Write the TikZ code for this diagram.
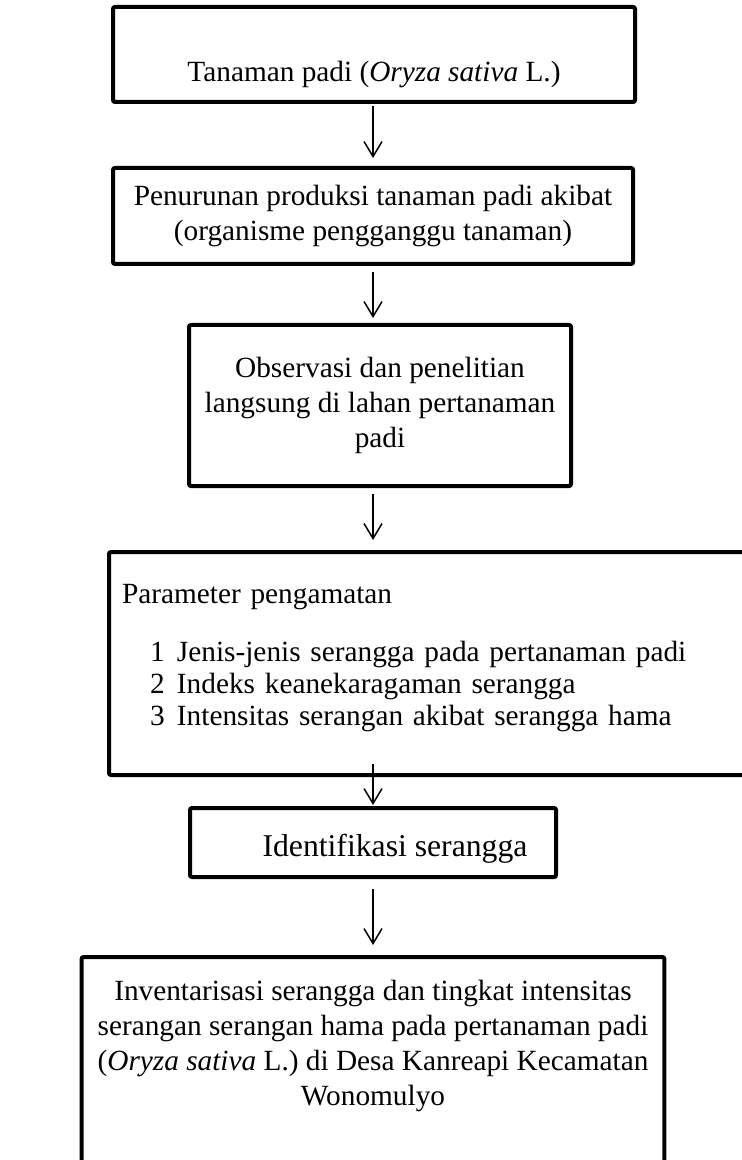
\documentclass[tikz,border=0pt]{standalone}
\usepackage{fontspec}
\setmainfont{Liberation Serif}
\usetikzlibrary{arrows.meta,positioning}

\begin{document}
\begin{tikzpicture}[x=0.5pt, y=-0.5pt,
    every node/.style={font=\fontsize{14.65pt}{17.5pt}\selectfont},
    box/.style={draw=black, line width=2pt, rounded corners=1pt, inner xsep=5pt, inner ysep=4pt, align=center},
    flow/.style={draw=black, line width=0.75pt, -{Straight Barb[length=7.5pt, width=9pt]}}]

    \useasboundingbox (0,0) rectangle (741,1160);
    \coordinate (axis) at (373,0);

    % Nodes
    \node[box, anchor=north, minimum width=261pt, text height=33.5pt, text depth=6pt] (plant) at (374,5) {Tanaman padi (\textit{Oryza sativa} L.)};
    \node[box, anchor=north, minimum width=260pt, minimum height=48pt] (decline) at (373,166) {Penurunan produksi tanaman padi akibat\\(organisme pengganggu tanaman)};
    \node[box, anchor=north, minimum width=191pt, minimum height=80.5pt] (observe) at (380,323) {Observasi dan penelitian\\langsung di lahan pertanaman\\padi};
    \node[box, anchor=north west, inner xsep=6.5pt, text width=317pt, align=left, text height=21.5pt, text depth=82pt] (param) at (107,550) {%
        \begin{tabular}[t]{@{}l@{}}
        Parameter pengamatan\\[11.5pt]
        \hspace*{14pt}\makebox[13.5pt][l]{1}Jenis-jenis serangga pada pertanaman padi\\[-1.5pt]
        \hspace*{14pt}\makebox[13.5pt][l]{2}Indeks keanekaragaman serangga\\[-1.5pt]
        \hspace*{14pt}\makebox[13.5pt][l]{3}Intensitas serangan akibat serangga hama
        \end{tabular}};
    \node[box, anchor=north, minimum width=183pt, font=\fontsize{15.85pt}{19pt}\selectfont, text height=20pt, text depth=6.5pt] (ident) at (373,806) {\hspace*{22pt}Identifikasi serangga};
    \node[box, anchor=north, inner xsep=8pt, text height=17.5pt, text depth=84.5pt] (result) at (373,955) {%
        \begin{tabular}[t]{@{}c@{}}
        Inventarisasi serangga dan tingkat intensitas\\
        serangan serangan hama pada pertanaman padi\\
        (\textit{Oryza sativa} L.) di Desa Kanreapi Kecamatan\\
        Wonomulyo
        \end{tabular}};

    % Arrows
    \draw[flow, shorten <=1pt, shorten >=4pt] (plant.south -| axis) -- (decline.north -| axis);
    \draw[flow, shorten <=3pt, shorten >=2.5pt] (decline.south -| axis) -- (observe.north -| axis);
    \draw[flow, shorten <=3pt, shorten >=5pt] (observe.south -| axis) -- (param.north -| axis);
    \draw[flow, shorten >=0.5pt] ([yshift=6.5pt]param.south -| axis) -- (ident.north -| axis);
    \draw[flow, shorten <=5pt, shorten >=5pt] (ident.south -| axis) -- (result.north -| axis);

\end{tikzpicture}
\end{document}
